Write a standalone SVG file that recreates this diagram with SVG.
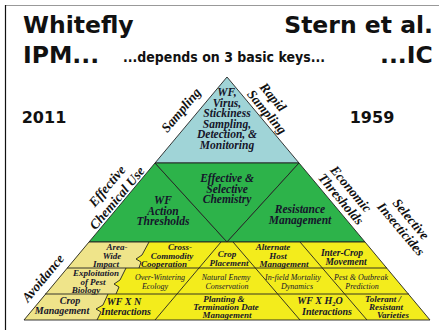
<svg xmlns="http://www.w3.org/2000/svg" width="439" height="330" viewBox="0 0 439 330">
<style>
.ttl{font-family:"DejaVu Sans",Verdana,sans-serif;font-weight:bold;fill:#111}
.pt{font-family:"Liberation Serif","Times New Roman",serif;font-weight:bold;font-style:italic;fill:#15152a;text-anchor:middle}
.sm{font-family:"Liberation Serif","Times New Roman",serif;font-style:italic;fill:#15152a;text-anchor:middle;font-size:8px}
.side{font-family:"Liberation Serif","Times New Roman",serif;font-weight:bold;font-style:italic;fill:#111;text-anchor:middle;font-size:13.5px}
.ln{fill:none;stroke:#222;stroke-width:0.9}
.blue{fill:#a0d4d7;stroke:#222;stroke-width:0.9}
.green{fill:#2db34a;stroke:#222;stroke-width:0.9}
.ybr{fill:#f3ec1c}
.ylt{fill:#efe48a}
</style>
<rect width="439" height="330" fill="#fff"/>
<line x1="5" y1="5.5" x2="439" y2="5.5" stroke="#999" stroke-width="1.2"/>
<line x1="5.5" y1="5" x2="5.5" y2="330" stroke="#111" stroke-width="1.2"/>

<g id="title">
<text class="ttl" x="23" y="33" font-size="23.5">Whitefly</text>
<text class="ttl" x="433" y="33" font-size="23.5" text-anchor="end">Stern et al.</text>
<text class="ttl" x="23" y="63" font-size="23.5">IPM...</text>
<text class="ttl" x="123" y="62" font-size="13.5" textLength="202" lengthAdjust="spacingAndGlyphs">...depends on 3 basic keys...</text>
<text class="ttl" x="380" y="63" font-size="23.5">...IC</text>
<text class="ttl" x="44" y="123" font-size="16" text-anchor="middle">2011</text>
<text class="ttl" x="372" y="123" font-size="16" text-anchor="middle">1959</text>
</g>

<g id="top-sampling">
<polygon points="227,77 299,163 155,163" class="blue"/>
<text class="pt" font-size="11.5"><tspan x="227" y="96">WF,</tspan><tspan x="227" y="106.5">Virus,</tspan><tspan x="227" y="117">Stickiness</tspan><tspan x="227" y="127.5">Sampling,</tspan><tspan x="227" y="138">Detection, &amp;</tspan><tspan x="227" y="148.5">Monitoring</tspan></text>
</g>

<g id="wf-action-thresholds">
<polygon points="155,163 227,242 89,242" class="green"/>
<text class="pt" font-size="11.5"><tspan x="163" y="204">WF</tspan><tspan x="163" y="214.5">Action</tspan><tspan x="163" y="225">Thresholds</tspan></text>
</g>
<g id="selective-chemistry">
<polygon points="155,163 299,163 227,242" class="green"/>
<text class="pt" font-size="11.5"><tspan x="227" y="182">Effective &amp;</tspan><tspan x="227" y="192.5">Selective</tspan><tspan x="227" y="203">Chemistry</tspan></text>
</g>
<g id="resistance-management">
<polygon points="299,163 365,242 227,242" class="green"/>
<text class="pt" font-size="11.5"><tspan x="300" y="213">Resistance</tspan><tspan x="300" y="223.5">Management</tspan></text>
</g>

<g id="yellow-base">
<polygon points="89,242 365,242 430,320 24,320" class="ybr"/>
<polygon points="89,242 149,242 142,255 136,259 141,262 139,268 126,268 120,280 114,284 119,287 116,294 108,294 103,305 96,309 101,312 97,320 24,320" class="ylt"/>
<polyline class="ln" points="149,242 142,255 136,259 141,262 139,268"/>
<polyline class="ln" points="126,268 120,280 114,284 119,287 116,294"/>
<polyline class="ln" points="108,294 103,305 96,309 101,312 97,320"/>
<line class="ln" x1="221" y1="242" x2="155" y2="320"/>
<line class="ln" x1="233" y1="242" x2="300" y2="320"/>
<line class="ln" x1="300" y1="242" x2="367" y2="320"/>
<line class="ln" x1="67" y1="268" x2="387" y2="268"/>
<line class="ln" x1="45" y1="294" x2="409" y2="294"/>
<polygon points="89,242 365,242 430,320 24,320" class="ln"/>
</g>

<g id="area-wide-impact"><text class="pt" font-size="9"><tspan x="117" y="250">Area-</tspan><tspan x="112" y="258.5">Wide</tspan><tspan x="106" y="267">Impact</tspan></text></g>
<g id="cross-commodity"><text class="pt" font-size="9"><tspan x="180" y="250">Cross-</tspan><tspan x="172" y="258.5">Commodity</tspan><tspan x="164" y="267">Cooperation</tspan></text></g>
<g id="crop-placement"><text class="pt" font-size="9"><tspan x="227" y="257">Crop</tspan><tspan x="229" y="266">Placement</tspan></text></g>
<g id="alternate-host"><text class="pt" font-size="9"><tspan x="273" y="250">Alternate</tspan><tspan x="278" y="258.5">Host</tspan><tspan x="284" y="267">Management</tspan></text></g>
<g id="inter-crop"><text class="pt" font-size="9.5"><tspan x="342" y="256">Inter-Crop</tspan><tspan x="346" y="265">Movement</tspan></text></g>

<g id="exploitation"><text class="pt" font-size="9"><tspan x="96" y="276">Exploitation</tspan><tspan x="93" y="284.5">of Pest</tspan><tspan x="86" y="293">Biology</tspan></text></g>
<g id="over-wintering"><text class="sm"><tspan x="160" y="279.5">Over-Wintering</tspan><tspan x="155" y="288.5">Ecology</tspan></text></g>
<g id="natural-enemy"><text class="sm"><tspan x="226" y="279.5">Natural Enemy</tspan><tspan x="227" y="288.5">Conservation</tspan></text></g>
<g id="in-field"><text class="sm"><tspan x="293" y="279.5">In-field Mortality</tspan><tspan x="297" y="288.5">Dynamics</tspan></text></g>
<g id="pest-outbreak"><text class="sm"><tspan x="361" y="279.5">Pest &amp; Outbreak</tspan><tspan x="362" y="288.5">Prediction</tspan></text></g>

<g id="crop-management"><text class="pt" font-size="10"><tspan x="70" y="304">Crop</tspan><tspan x="62" y="314">Management</tspan></text></g>
<g id="wf-x-n"><text class="pt" font-size="10"><tspan x="124" y="305">WF X N</tspan><tspan x="126" y="315">Interactions</tspan></text></g>
<g id="planting"><text class="pt" font-size="9"><tspan x="224" y="302">Planting &amp;</tspan><tspan x="226" y="310">Termination Date</tspan><tspan x="227" y="318">Management</tspan></text></g>
<g id="wf-x-h2o"><text class="pt" font-size="10"><tspan x="320" y="304">WF X H<tspan font-size="6.5" dy="2">2</tspan><tspan dy="-2">O</tspan></tspan><tspan x="327" y="315">Interactions</tspan></text></g>
<g id="tolerant"><text class="pt" font-size="9"><tspan x="383" y="302">Tolerant /</tspan><tspan x="386" y="310">Resistant</tspan><tspan x="393" y="318">Varieties</tspan></text></g>

<g id="side-labels">
<text class="side" transform="translate(181,110) rotate(-50)" y="4.5">Sampling</text>
<text class="side" transform="translate(273,97) rotate(50)" y="4.5">Rapid</text>
<text class="side" transform="translate(267,112) rotate(50)" y="4.5">Sampling</text>
<text class="side" transform="translate(107,186) rotate(-50)" y="4.5">Effective</text>
<text class="side" transform="translate(117,198) rotate(-50)" y="4.5">Chemical Use</text>
<text class="side" transform="translate(351,189) rotate(50)" y="4.5">Economic</text>
<text class="side" transform="translate(341,199) rotate(50)" y="4.5">Thresholds</text>
<text class="side" transform="translate(411,219) rotate(50)" y="4.5">Selective</text>
<text class="side" transform="translate(401,229) rotate(50)" y="4.5">Insecticides</text>
<text class="side" transform="translate(43,278) rotate(-50)" y="4.5">Avoidance</text>
</g>
</svg>
